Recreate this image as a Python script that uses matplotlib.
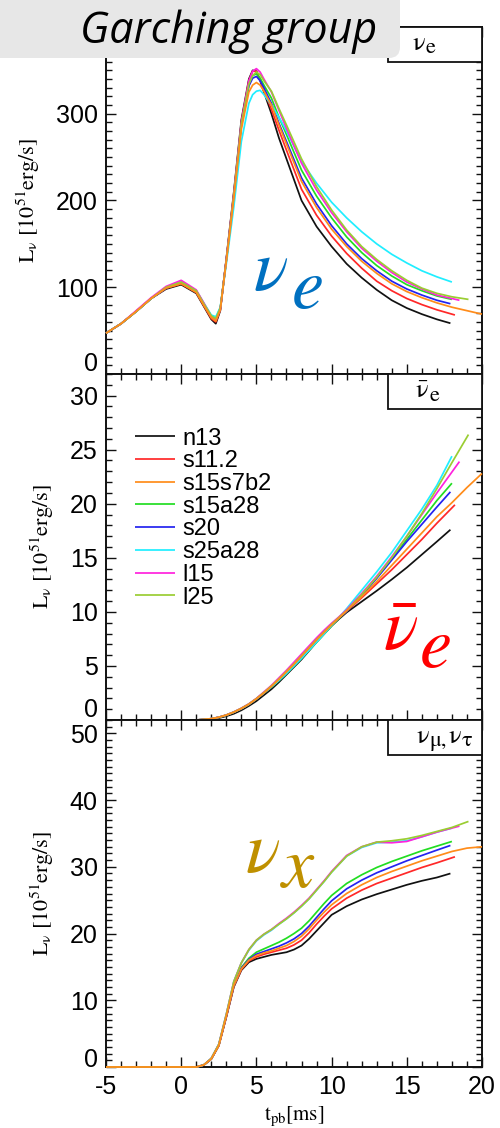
import matplotlib
matplotlib.use("Agg")
import matplotlib.pyplot as plt
from matplotlib.patches import Rectangle, FancyBboxPatch
from matplotlib.transforms import IdentityTransform
from matplotlib.ticker import MultipleLocator, FixedLocator, FuncFormatter

plt.rcParams["mathtext.fontset"] = "stix"
plt.rcParams["axes.unicode_minus"] = False
plt.rcParams["font.family"] = ["Liberation Sans", "DejaVu Sans"]

# ---------------------------------------------------------------- data
models = ["n13", "s11.2", "s15s7b2", "s15a28", "s20", "s25a28", "l15", "l25"]
colors = ["#111111", "#ff2828", "#ff8c1a", "#22dd22", "#2323f0",
          "#20eeff", "#ff22dd", "#9acd32"]

# end of each run [ms] (times appended after the shared grids)
t_tail = [[17.9], [18.2], [18.0, 19.0, 20.0], [18.0], [17.9], [18.0],
          [18.5], [18.0, 19.1]]

# electron neutrino luminosity [1e51 erg/s]
t_nue = [-5, -4, -3, -2, -1, 0, 1, 1.5, 2, 2.3, 2.6, 3, 3.5, 4, 4.5, 4.75,
         5, 5.25, 5.5, 6, 6.5, 7, 8, 9, 10, 11, 12, 13, 14, 15, 16, 17]
nue_n13 = [47, 58, 72, 87, 98, 103, 93, 78, 63, 58, 73, 133, 210, 293, 340, 350,
           349, 338, 325, 300, 272, 248, 200, 170, 147, 127, 111, 97, 85, 76, 69, 63,
           58.5]
nue_s11 = [47, 58, 72, 87, 99, 104, 94, 79, 64, 60, 74, 132, 208, 290, 338, 349,
           349, 339, 327, 305, 281, 258, 213, 183, 159, 139, 122, 107, 96, 87, 80, 74,
           68]
nue_s15s7b2 = [47, 58, 72, 87, 99, 104, 94, 79, 65, 61, 74, 130, 203, 282, 325, 333,
               336, 333, 326, 310, 287, 265, 222, 192, 167, 147, 130, 116, 104, 95, 88,
               82, 77, 73, 69]
nue_s15a28 = [47, 58, 72, 87, 100, 106, 96, 81, 67, 64, 76, 131, 205, 287, 333, 344,
              346, 341, 333, 318, 296, 276, 235, 205, 180, 158, 140, 125, 113, 103, 96,
              90, 86]
nue_s20 = [47, 58, 72, 87, 99, 105, 95, 80, 66, 62, 75, 131, 205, 287, 332, 341,
           343, 338, 330, 312, 289, 268, 226, 196, 171, 150, 133, 119, 107, 98, 91, 85,
           81]
nue_s25a28 = [47, 58, 72, 87, 100, 106, 96, 82, 68, 66, 77, 127, 193, 268, 312, 322,
              326, 327, 322, 310, 296, 280, 245, 220, 198, 180, 164, 150, 138, 128, 119,
              112, 106]
nue_l15 = [47, 58, 73, 88, 101, 108, 97, 82, 66, 62, 75, 132, 207, 290, 338, 349,
           352, 348, 340, 325, 304, 283, 243, 212, 186, 164, 145, 130, 117, 106, 98, 91,
           85]
nue_l25 = [47, 58, 72, 87, 100, 106, 96, 81, 67, 64, 76, 131, 206, 288, 334, 344,
           348, 345, 338, 326, 306, 287, 248, 216, 189, 166, 147, 132, 119, 108, 99, 93,
           89, 86]

# electron antineutrino luminosity [1e51 erg/s]
t_nuebar = [1, 1.5, 2, 2.5, 3, 3.5, 4, 4.5, 5, 5.5, 6, 6.5, 7, 7.5, 8, 8.5, 9,
            9.5, 10, 10.5, 11, 12, 13, 14, 15, 16, 17]
nuebar_n13 = [0, 0.03, 0.08, 0.18, 0.35, 0.58, 0.9, 1.3, 1.75, 2.3, 2.85, 3.5, 4.2,
              4.9, 5.6, 6.4, 7.2, 7.95, 8.7, 9.35, 9.95, 10.95, 11.95, 13.0, 14.1,
              15.3, 16.5, 17.6]
nuebar_s11 = [0, 0.05, 0.12, 0.25, 0.45, 0.72, 1.05, 1.45, 1.95, 2.5, 3.1, 3.75,
              4.45, 5.15, 5.9, 6.65, 7.4, 8.1, 8.8, 9.45, 10.05, 11.3, 12.6, 13.9,
              15.3, 16.7, 18.2, 19.9]
nuebar_s15s7b2 = [0, 0.05, 0.12, 0.25, 0.45, 0.72, 1.05, 1.45, 1.95, 2.5, 3.1, 3.75,
                  4.45, 5.15, 5.9, 6.65, 7.4, 8.1, 8.8, 9.45, 10.1, 11.4, 12.8, 14.3,
                  15.8, 17.3, 18.8, 20.1, 21.5, 22.8]
nuebar_s15a28 = [0, 0.05, 0.12, 0.25, 0.45, 0.72, 1.05, 1.45, 1.95, 2.5, 3.05, 3.65,
                 4.3, 5.0, 5.7, 6.45, 7.2, 7.95, 8.7, 9.4, 10.1, 11.6, 13.2, 14.9,
                 16.7, 18.5, 20.3, 21.9]
nuebar_s20 = [0, 0.05, 0.12, 0.25, 0.45, 0.72, 1.05, 1.45, 1.95, 2.5, 3.1, 3.75,
              4.45, 5.15, 5.9, 6.65, 7.4, 8.1, 8.8, 9.45, 10.05, 11.5, 13.1, 14.8,
              16.5, 18.1, 19.7, 21.1]
nuebar_s25a28 = [0, 0.05, 0.12, 0.25, 0.45, 0.72, 1.05, 1.45, 1.95, 2.5, 3.05, 3.65,
                 4.3, 5.0, 5.7, 6.45, 7.2, 7.95, 8.75, 9.5, 10.3, 12.0, 13.7, 15.5,
                 17.5, 19.5, 21.7, 24.4]
nuebar_l15 = [0, 0.05, 0.12, 0.26, 0.47, 0.75, 1.1, 1.5, 2.0, 2.6, 3.2, 3.9, 4.6,
              5.35, 6.1, 6.85, 7.6, 8.3, 8.95, 9.55, 10.2, 11.7, 13.3, 15.1, 17.0,
              19.0, 21.0, 23.9]
nuebar_l25 = [0, 0.05, 0.12, 0.25, 0.46, 0.74, 1.08, 1.48, 1.98, 2.55, 3.15, 3.8,
              4.5, 5.2, 5.95, 6.7, 7.45, 8.15, 8.85, 9.5, 10.1, 11.6, 13.2, 15.0,
              17.0, 19.1, 21.4, 23.8, 26.4]

# heavy-lepton neutrino luminosity [1e51 erg/s]
t_nux = [-5, 0, 1, 1.5, 2, 2.5, 3, 3.5, 4, 4.5, 5, 5.5, 6, 6.5, 7, 7.5, 8, 8.5,
         9, 9.5, 10, 11, 12, 13, 14, 15, 16, 17]
nux_n13 = [0, 0, 0, 0.3, 1.2, 3.2, 7.5, 12.0, 14.5, 15.7, 16.2, 16.5, 16.8, 17.0,
           17.2, 17.6, 18.2, 19.2, 20.4, 21.6, 22.8, 24.1, 25.1, 25.9, 26.6, 27.3,
           27.9, 28.4, 29.0]
nux_s11 = [0, 0, 0, 0.3, 1.2, 3.2, 7.5, 12.1, 14.6, 15.9, 16.5, 16.9, 17.2, 17.5,
           17.8, 18.3, 19.0, 20.1, 21.4, 22.6, 23.7, 25.3, 26.5, 27.5, 28.3, 29.1,
           29.9, 30.6, 31.5]
nux_s15s7b2 = [0, 0, 0, 0.3, 1.2, 3.2, 7.6, 12.2, 14.7, 16.0, 16.7, 17.1, 17.4, 17.8,
               18.2, 18.8, 19.6, 20.7, 22.0, 23.2, 24.3, 26.0, 27.3, 28.4, 29.3, 30.1,
               30.9, 31.6, 32.3, 32.8, 33.0]
nux_s15a28 = [0, 0, 0, 0.3, 1.2, 3.3, 7.7, 12.3, 14.9, 16.3, 17.2, 17.7, 18.2, 18.7,
              19.3, 20.0, 20.8, 21.9, 23.2, 24.5, 25.7, 27.5, 28.8, 29.9, 30.8, 31.6,
              32.4, 33.1, 33.8]
nux_s20 = [0, 0, 0, 0.3, 1.2, 3.3, 7.6, 12.2, 14.8, 16.1, 16.9, 17.3, 17.7, 18.1,
           18.6, 19.2, 20.0, 21.1, 22.4, 23.7, 24.9, 26.7, 28.0, 29.1, 30.0, 30.9,
           31.7, 32.5, 33.2]
nux_s25a28 = [0, 0, 0, 0.3, 1.3, 3.4, 7.9, 12.8, 15.6, 17.5, 18.9, 19.8, 20.5, 21.4,
              22.2, 23.1, 24.1, 25.2, 26.5, 27.8, 29.2, 31.6, 32.9, 33.6, 33.7, 33.9,
              34.5, 35.2, 35.8]
nux_l15 = [0, 0, 0, 0.3, 1.3, 3.4, 7.9, 12.8, 15.6, 17.6, 19.0, 19.9, 20.6, 21.5,
           22.3, 23.2, 24.2, 25.3, 26.6, 27.9, 29.3, 31.7, 33.0, 33.7, 33.6, 33.8,
           34.5, 35.2, 36.1]
nux_l25 = [0, 0, 0, 0.3, 1.3, 3.4, 7.9, 12.8, 15.6, 17.6, 19.0, 19.9, 20.6, 21.4,
           22.2, 23.1, 24.1, 25.2, 26.5, 27.8, 29.2, 31.6, 33.0, 33.7, 33.9, 34.2,
           34.7, 35.3, 35.9, 36.8]

nue_all = [nue_n13, nue_s11, nue_s15s7b2, nue_s15a28, nue_s20, nue_s25a28, nue_l15, nue_l25]
nuebar_all = [nuebar_n13, nuebar_s11, nuebar_s15s7b2, nuebar_s15a28, nuebar_s20,
              nuebar_s25a28, nuebar_l15, nuebar_l25]
nux_all = [nux_n13, nux_s11, nux_s15s7b2, nux_s15a28, nux_s20, nux_s25a28, nux_l15, nux_l25]

# ---------------------------------------------------------------- layout
W, H = 500.0, 1128.0
fig = plt.figure(figsize=(W / 100, H / 100), dpi=100)


def rect_px(x0, y0, x1, y1):
    """Axes rectangle from pixel box (origin top-left)."""
    return [x0 / W, 1 - y1 / H, (x1 - x0) / W, (y1 - y0) / H]


def fpos(x, y):
    return x / W, 1 - y / H


ax_top = fig.add_axes(rect_px(106, 27, 482, 374))
ax_mid = fig.add_axes(rect_px(106, 374, 482, 720))
ax_bot = fig.add_axes(rect_px(106, 720, 482, 1067))

TICK_FS = 18
SERIF = ["STIXGeneral", "DejaVu Serif"]


def style_axes(ax, ylim, yticks, yminor, zero_shift, xlabels):
    ax.set_xlim(-5, 20)
    ax.set_ylim(*ylim)
    ax.xaxis.set_major_locator(MultipleLocator(5))
    ax.xaxis.set_minor_locator(MultipleLocator(1))
    ax.yaxis.set_major_locator(FixedLocator(yticks))
    ax.yaxis.set_minor_locator(MultipleLocator(yminor))
    ax.yaxis.set_major_formatter(FuncFormatter(lambda v, p: "" if v == 0 else f"{v:g}"))
    ax.tick_params(which="both", direction="in", top=True, right=True,
                   width=1.0, color="#111111")
    ax.tick_params(which="major", length=7, labelsize=TICK_FS, pad=6)
    ax.tick_params(which="minor", length=4)
    if not xlabels:
        ax.tick_params(axis="x", labelbottom=False)
    for s in ax.spines.values():
        s.set_linewidth(1.4)
        s.set_color("#111111")
    # zero label sits slightly above the shared panel edge
    ax.annotate("0", xy=(0, 0), xycoords=("axes fraction", "data"),
                xytext=(-6, zero_shift), textcoords="offset points",
                ha="right", va="center", fontsize=TICK_FS)
    ax.set_ylabel(r"$\mathrm{L_\nu\ [10^{51}erg/s]}$", fontsize=16, labelpad=10)


def draw_series(ax, t_grid, series):
    handles = []
    for i, (name, col, vals) in enumerate(zip(models, colors, series)):
        tt = list(t_grid) + t_tail[i]
        z = 4 if name == "s15s7b2" else 3
        ln, = ax.plot(tt, vals, color=col, lw=1.25, zorder=z, clip_on=False,
                      label=name, solid_capstyle="butt", solid_joinstyle="round")
        handles.append(ln)
    return handles


draw_series(ax_top, t_nue, nue_all)
hmid = draw_series(ax_mid, t_nuebar, nuebar_all)
draw_series(ax_bot, t_nux, nux_all)

style_axes(ax_top, (0, 400), [0, 100, 200, 300], 10, 7, False)
style_axes(ax_mid, (0, 32), [0, 5, 10, 15, 20, 25, 30], 1, 7, False)
style_axes(ax_bot, (0, 52), [0, 10, 20, 30, 40, 50], 1, 5, True)

ax_bot.set_xlabel(r"$\mathrm{t_{pb}[ms]}$", fontsize=15, labelpad=4)

ax_mid.legend(handles=hmid, labels=models, loc="upper left",
              bbox_to_anchor=(0.077, 0.845), frameon=False, fontsize=17,
              handlelength=1.7, handletextpad=0.3, labelspacing=0.03,
              borderpad=0, borderaxespad=0)

# flavour boxes in the upper-right corners
for ax in (ax_top, ax_mid, ax_bot):
    ax.add_patch(Rectangle((0.75, 0.899), 0.25, 0.101, transform=ax.transAxes,
                           facecolor="white", edgecolor="#111111", lw=1.3,
                           zorder=6, clip_on=False))

BOX_FS, SUB_FS = 19, 16
fig.text(*fpos(412, 50), "ν", family=SERIF, fontsize=BOX_FS, va="baseline", zorder=7)
fig.text(*fpos(426, 53), "e", family=SERIF, fontsize=SUB_FS, va="baseline", zorder=7)
fig.text(*fpos(415, 398), r"$\bar{\mathrm{\nu}}$", fontsize=BOX_FS, va="baseline", zorder=7)
fig.text(*fpos(430, 401), "e", family=SERIF, fontsize=SUB_FS, va="baseline", zorder=7)
fig.text(*fpos(416, 743), "ν", family=SERIF, fontsize=BOX_FS, va="baseline", zorder=7)
fig.text(*fpos(430, 746), "μ,", family=SERIF, fontsize=SUB_FS, va="baseline", zorder=7)
fig.text(*fpos(448, 743), "ν", family=SERIF, fontsize=BOX_FS, va="baseline", zorder=7)
fig.text(*fpos(462, 746), "τ", family=SERIF, fontsize=SUB_FS, va="baseline", zorder=7)

# large flavour tags
BIG = 52
fig.text(*fpos(253, 290), r"$\nu$", fontsize=BIG, color="#0070c0", va="baseline")
fig.text(*fpos(291, 308), r"$e$", fontsize=BIG, color="#0070c0", va="baseline")
fig.text(*fpos(383, 650), r"$\bar{\nu}$", fontsize=BIG, color="#ff0000", va="baseline")
fig.text(*fpos(419, 667), r"$e$", fontsize=BIG, color="#ff0000", va="baseline")
fig.text(*fpos(245, 872), r"$\nu$", fontsize=BIG, color="#bf9000", va="baseline")
fig.text(*fpos(280, 887), r"$x$", fontsize=BIG, color="#bf9000", va="baseline")

# title banner
banner = FancyBboxPatch((-30, H - 58), 430, 120,
                        boxstyle="round,pad=0,rounding_size=11",
                        transform=IdentityTransform(), facecolor="#e7e7e7",
                        edgecolor="none", zorder=10)
fig.add_artist(banner)
fig.text(*fpos(229, 43), "Garching group", family=["Open Sans", "DejaVu Sans"],
         style="italic", fontsize=31, ha="center", va="baseline", zorder=11)

fig.savefig("out.png", dpi=100)
